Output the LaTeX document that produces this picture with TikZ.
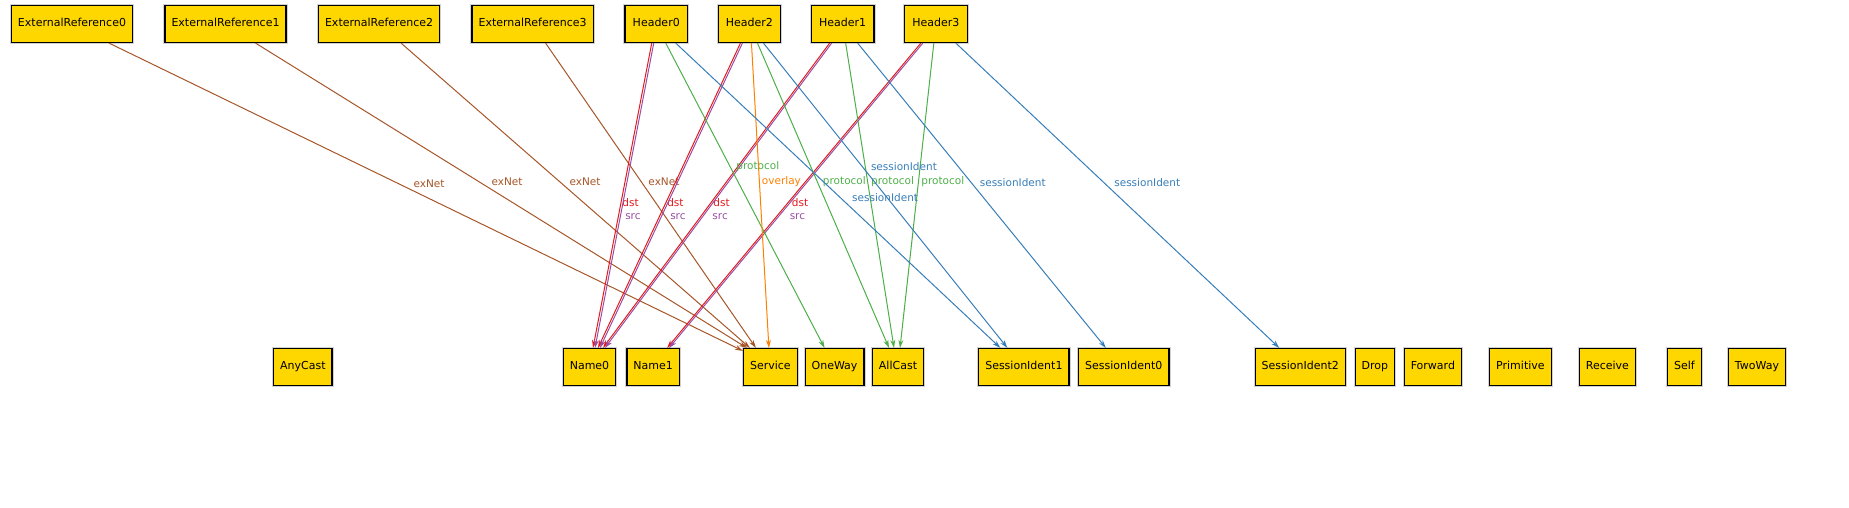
\documentclass[tikz,border=0pt]{standalone}
\usepackage{fontspec}
\setmainfont{DejaVu Sans}
\usepackage{tikz}
\usetikzlibrary{positioning,arrows.meta}
\definecolor{AlloyGold}{RGB}{255,215,0}
\definecolor{DstRed}{RGB}{228,26,28}
\definecolor{SrcPurple}{RGB}{152,78,163}
\definecolor{ProtoGreen}{RGB}{77,175,74}
\definecolor{SessBlue}{RGB}{55,126,184}
\definecolor{OverlayOrange}{RGB}{255,127,0}
\definecolor{ExNetBrown}{RGB}{166,86,40}

\begin{document}
\begin{tikzpicture}[
    x=1pt, y=-1pt,
    node distance=31.3pt,
    box/.style={draw=black, line width=1.2pt, rectangle, fill=AlloyGold, minimum height=37pt, inner xsep=6.5pt, inner ysep=0pt, text height=8pt, text depth=2.2pt, font=\fontsize{11}{13}\selectfont, preaction={draw=black!18, line width=3.2pt}},
    headbox/.style={box, minimum width=62.5pt},
    rel/.style={line width=1pt, -{Stealth[length=8pt, width=5pt]}},
    lbl/.style={anchor=west, inner sep=0pt, font=\fontsize{10.5}{12}\selectfont},
  ]
    \useasboundingbox (0,0) rectangle (1849,507);

    \node[box] (extref0) at (72,24) {ExternalReference0};
    \node[box, right=of extref0] (extref1) {ExternalReference1};
    \node[box, right=of extref1] (extref2) {ExternalReference2};
    \node[box, right=of extref2] (extref3) {ExternalReference3};
    \node[headbox, right=30.7pt of extref3] (header0) {Header0};
    \node[headbox, right=29.5pt of header0] (header2) {Header2};
    \node[headbox, right=29.5pt of header2] (header1) {Header1};
    \node[headbox, right=29.5pt of header1] (header3) {Header3};

    \node[box] (name0) at (589.5,367) {Name0};
    \node[box, left=230pt of name0] (anycast) {AnyCast};
    \node[box, right=10pt of name0] (name1) {Name1};
    \node[box, right=63pt of name1] (service) {Service};
    \node[box, right=6.7pt of service] (oneway) {OneWay};
    \node[box, right=7.3pt of oneway] (allcast) {AllCast};
    \node[box, right=54pt of allcast] (sess1) {SessionIdent1};
    \node[box, right=8.5pt of sess1] (sess0) {SessionIdent0};
    \node[box, right=85pt of sess0] (sess2) {SessionIdent2};
    \node[box, right=8.5pt of sess2] (drop) {Drop};
    \node[box, right=8.5pt of drop] (forward) {Forward};
    \node[box, right=27pt of forward] (primitive) {Primitive};
    \node[box, right=27pt of primitive] (receive) {Receive};
    \node[box, right=31pt of receive] (self) {Self};
    \node[box, right=26pt of self] (twoway) {TwoWay};

    % exNet
    \draw[rel, ExNetBrown] ([xshift=37pt]extref0.south) -- ([yshift=-3pt]service.north west) node[lbl, pos=.456, xshift=15pt] {exNet};
    \draw[rel, ExNetBrown] ([xshift=30pt]extref1.south) -- ([xshift=-23.5pt]service.north) node[lbl, pos=.456, xshift=11.5pt] {exNet};
    \draw[rel, ExNetBrown] ([xshift=22pt]extref2.south) -- ([xshift=-20.5pt]service.north) node[lbl, pos=.456, xshift=9pt] {exNet};
    \draw[rel, ExNetBrown] ([xshift=13pt]extref3.south) -- ([xshift=-14.5pt]service.north) node[lbl, pos=.456, xshift=6.5pt] {exNet};

    % dst / src
    \draw[rel, DstRed] ([xshift=-4.5pt]header0.south) -- ([xshift=3.5pt]name0.north) node[lbl, pos=.524, xshift=1pt] {dst};
    \draw[rel, SrcPurple] ([xshift=-2.5pt]header0.south) -- ([xshift=5.5pt]name0.north) node[lbl, pos=.57, xshift=4.5pt] {src};
    \draw[rel, DstRed] ([xshift=-9pt]header2.south) -- ([xshift=8.5pt]name0.north) node[lbl, pos=.524, xshift=1pt] {dst};
    \draw[rel, SrcPurple] ([xshift=-7pt]header2.south) -- ([xshift=10.5pt]name0.north) node[lbl, pos=.57, xshift=8.5pt] {src};
    \draw[rel, DstRed] ([xshift=-13pt]header1.south) -- ([xshift=13.5pt]name0.north) node[lbl, pos=.524, xshift=2pt] {dst};
    \draw[rel, SrcPurple] ([xshift=-11pt]header1.south) -- ([xshift=15.5pt]name0.north) node[lbl, pos=.57, xshift=9.5pt] {src};
    \draw[rel, DstRed] ([xshift=-15pt]header3.south) -- ([xshift=14pt]name1.north) node[lbl, pos=.524, xshift=3.5pt] {dst};
    \draw[rel, SrcPurple] ([xshift=-13pt]header3.south) -- ([xshift=16pt]name1.north) node[lbl, pos=.57, xshift=11pt] {src};

    % protocol / overlay
    \draw[rel, ProtoGreen] ([xshift=9.5pt]header0.south) -- ([xshift=-10pt]oneway.north) node[lbl, pos=.404, xshift=6pt] {protocol};
    \draw[rel, ProtoGreen] ([xshift=8pt]header2.south) -- ([xshift=-9pt]allcast.north) node[lbl, pos=.456, xshift=5pt] {protocol};
    \draw[rel, ProtoGreen] ([xshift=3pt]header1.south) -- ([xshift=-4pt]allcast.north) node[lbl, pos=.456, xshift=3pt] {protocol};
    \draw[rel, ProtoGreen] ([xshift=-2pt]header3.south) -- ([xshift=2pt]allcast.north) node[lbl, pos=.456, xshift=2.5pt] {protocol};
    \draw[rel, OverlayOrange] ([xshift=2pt]header2.south) -- ([xshift=-1.5pt]service.north) node[lbl, pos=.456, xshift=2pt] {overlay};

    % sessionIdent
    \draw[rel, SessBlue] ([xshift=19.5pt]header0.south) -- ([xshift=-23.5pt]sess1.north) node[lbl, pos=.508, xshift=11pt] {sessionIdent};
    \draw[rel, SessBlue] ([xshift=14pt]header2.south) -- ([xshift=-16.5pt]sess1.north) node[lbl, pos=.404, xshift=8.5pt] {sessionIdent};
    \draw[rel, SessBlue] ([xshift=15pt]header1.south) -- ([xshift=-18pt]sess0.north) node[lbl, pos=.456, xshift=8.5pt] {sessionIdent};
    \draw[rel, SessBlue] ([xshift=20pt]header3.south) -- ([xshift=-21pt]sess2.north) node[lbl, pos=.456, xshift=10.5pt] {sessionIdent};
  \end{tikzpicture}
\end{document}
